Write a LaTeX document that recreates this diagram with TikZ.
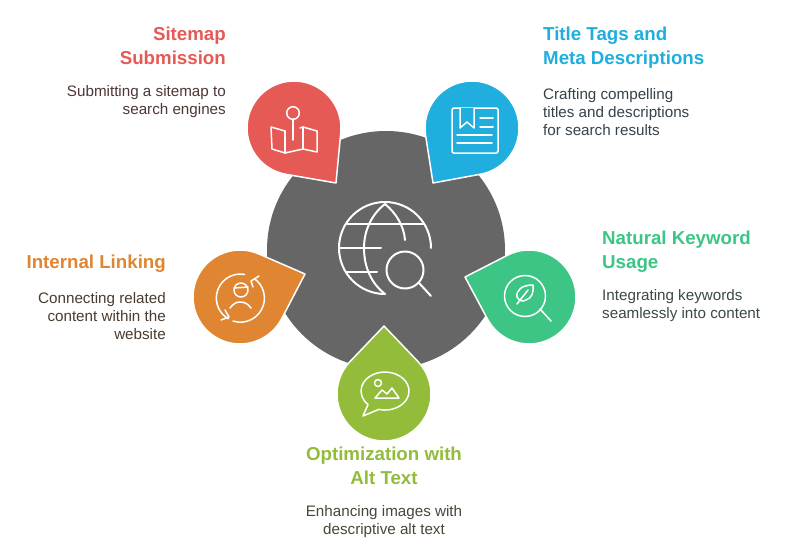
\documentclass[tikz,border=0pt]{standalone}
\usepackage{fontspec}
\setmainfont{Liberation Sans}
\definecolor{cred}{HTML}{E65A56}
\definecolor{cblue}{HTML}{1FAEDD}
\definecolor{cgreen}{HTML}{3DC585}
\definecolor{colive}{HTML}{92BC39}
\definecolor{corange}{HTML}{E08632}
\definecolor{cgrey}{HTML}{666666}
\definecolor{tred}{HTML}{4F3636}
\definecolor{tblue}{HTML}{36424A}
\definecolor{tgreen}{HTML}{3A4A45}
\definecolor{tolive}{HTML}{45483A}
\definecolor{torange}{HTML}{4A3C30}
\tikzset{
  icon/.style={draw=white,line width=1.5pt,line cap=round,line join=round},
  bigicon/.style={icon,line width=2pt},
  drop/.style={draw=white,line width=1.5pt,line join=round},
  head/.style={inner sep=0pt,font=\fontsize{18.7}{24}\selectfont\bfseries},
  body/.style={inner sep=0pt,font=\fontsize{15.2}{18}\selectfont}
}
\newcommand{\dropshape}[5]{%
  \pgfmathsetmacro{\dang}{atan2(#4-#2,#3-#1)}%
  \pgfmathsetmacro{\dlen}{veclen(#4-#2,#3-#1)}%
  \pgfmathsetmacro{\dtan}{acos(47/\dlen)}%
  \begin{scope}[shift={(#1,#2)},rotate=\dang]
    \fill[#5,drop] (\dlen,0) -- (\dtan:47pt) arc[start angle=\dtan,end angle=360-\dtan,radius=47pt] -- cycle;
  \end{scope}}
\begin{document}
\begin{tikzpicture}[x=1pt,y=1pt,yscale=-1]
\useasboundingbox (0,0) rectangle (792,554);
\fill[white] (0,0) rectangle (792,554);
\fill[cgrey] (386,250) circle[radius=119pt];

\dropshape{294}{128}{336}{183}{cred}
\dropshape{472}{128}{433}{183}{cblue}
\dropshape{529}{297}{465}{277}{cgreen}
\dropshape{384}{394}{384}{326}{colive}
\dropshape{240}{297}{305}{274}{corange}

% globe
\draw[bigicon] (431,248) arc[start angle=0,end angle=-270,radius=46pt];
\draw[bigicon] (385,204) .. controls (372,214) and (364,230) .. (364,248) .. controls (364,268) and (372,284) .. (385,294);
\draw[bigicon] (385,204) .. controls (396,213) and (404,226) .. (405,240);
\draw[bigicon] (347,224) -- (423,224);
\draw[bigicon] (339,248) -- (381,248);
\draw[bigicon] (346,272) -- (377,272);
\draw[bigicon] (405,270) circle[radius=18.5pt];
\draw[bigicon] (419,283) -- (431,296);

% map
\draw[icon] (293,113) circle[radius=6.3pt];
\draw[icon] (293,119.5) -- (293,140);
\draw[icon] (285,131) -- (271,127) -- (272,149) -- (285,153) -- (303,149) -- (317,152) -- (317,131) -- (303,127) -- (300,128);
\draw[icon] (285,131) -- (285,153);
\draw[icon] (303,127) -- (303,149);

% book
\draw[icon,rounded corners=1.5pt] (452,108) rectangle (498,153);
\draw[icon,fill=cblue] (460,108) -- (460,128) -- (467,122) -- (474,128) -- (474,108);
\draw[icon] (480,118) -- (493,118);
\draw[icon] (480,127) -- (493,127);
\draw[icon] (457,135) -- (492,135);
\draw[icon] (457,143) -- (492,143);

% leaf lens
\draw[icon] (525,296) circle[radius=20.5pt];
\draw[icon] (540,309) -- (551,321);
\draw[icon] (533,285) .. controls (522,285) and (516,290) .. (517,297) .. controls (519,301) and (523,302) .. (526,300) .. controls (532,298) and (534,292) .. (533,285);
\draw[icon] (528,290) -- (517,304);

% chat image
\draw[icon] (378.8,409.4) arc[start angle=105,end angle=-225,x radius=24pt,y radius=19pt] -- (363,416) -- cycle;
\draw[icon] (378,383) circle[radius=3.5pt];
\draw[icon] (375,398) -- (382,390) -- (387,394) -- (392,388) -- (399,398) -- cycle;

% person cycle
\draw[icon] (233,321) arc[start angle=108,end angle=-54,radius=24pt];
\draw[icon] (259,276) -- (251,281) -- (253,287);
\draw[icon] (244.5,274.4) arc[start angle=-80,end angle=-240,radius=24pt];
\draw[icon] (221,320) -- (229,317) -- (225,310);
\draw[icon] (241,290) circle[radius=7pt];
\draw[icon] (234,288) -- (248,287);
\draw[icon] (230,308) .. controls (233,304) and (236,302) .. (240,302) .. controls (245,302) and (248,304) .. (251,308);

% texts
\node[head,text=cred,anchor=base east] (t1) at (226,40.5) {Sitemap};
\node[head,text=cred,anchor=base east] (t1b) at (226,64.5) {Submission};
\node[body,text=tred,anchor=base east] (b1) at (226,96) {Submitting a sitemap to};
\node[body,text=tred,anchor=base east] (b1b) at (226,114) {search engines};

\node[head,text=cblue,anchor=base west] (t2) at (543,40.5) {Title Tags and};
\node[head,text=cblue,anchor=base west] (t2b) at (543,64.5) {Meta Descriptions};
\node[body,text=tblue,anchor=base west] (b2) at (543,99) {Crafting compelling};
\node[body,text=tblue,anchor=base west] (b2b) at (543,117) {titles and descriptions};
\node[body,text=tblue,anchor=base west] (b2c) at (543,135) {for search results};

\node[head,text=cgreen,anchor=base west] (t3) at (602,244.5) {Natural Keyword};
\node[head,text=cgreen,anchor=base west] (t3b) at (602,268.5) {Usage};
\node[body,text=tgreen,anchor=base west] (b3) at (602,300) {Integrating keywords};
\node[body,text=tgreen,anchor=base west] (b3b) at (602,318) {seamlessly into content};

\node[head,text=colive,anchor=base] (t4) at (384,460.5) {Optimization with};
\node[head,text=colive,anchor=base] (t4b) at (384,484.5) {Alt Text};
\node[body,text=tolive,anchor=base] (b4) at (384,516) {Enhancing images with};
\node[body,text=tolive,anchor=base] (b4b) at (384,534) {descriptive alt text};

\node[head,text=corange,anchor=base east] (t5) at (166,268.5) {Internal Linking};
\node[body,text=torange,anchor=base east] (b5) at (166,303) {Connecting related};
\node[body,text=torange,anchor=base east] (b5b) at (166,321) {content within the};
\node[body,text=torange,anchor=base east] (b5c) at (166,339) {website};
\end{tikzpicture}
\end{document}
